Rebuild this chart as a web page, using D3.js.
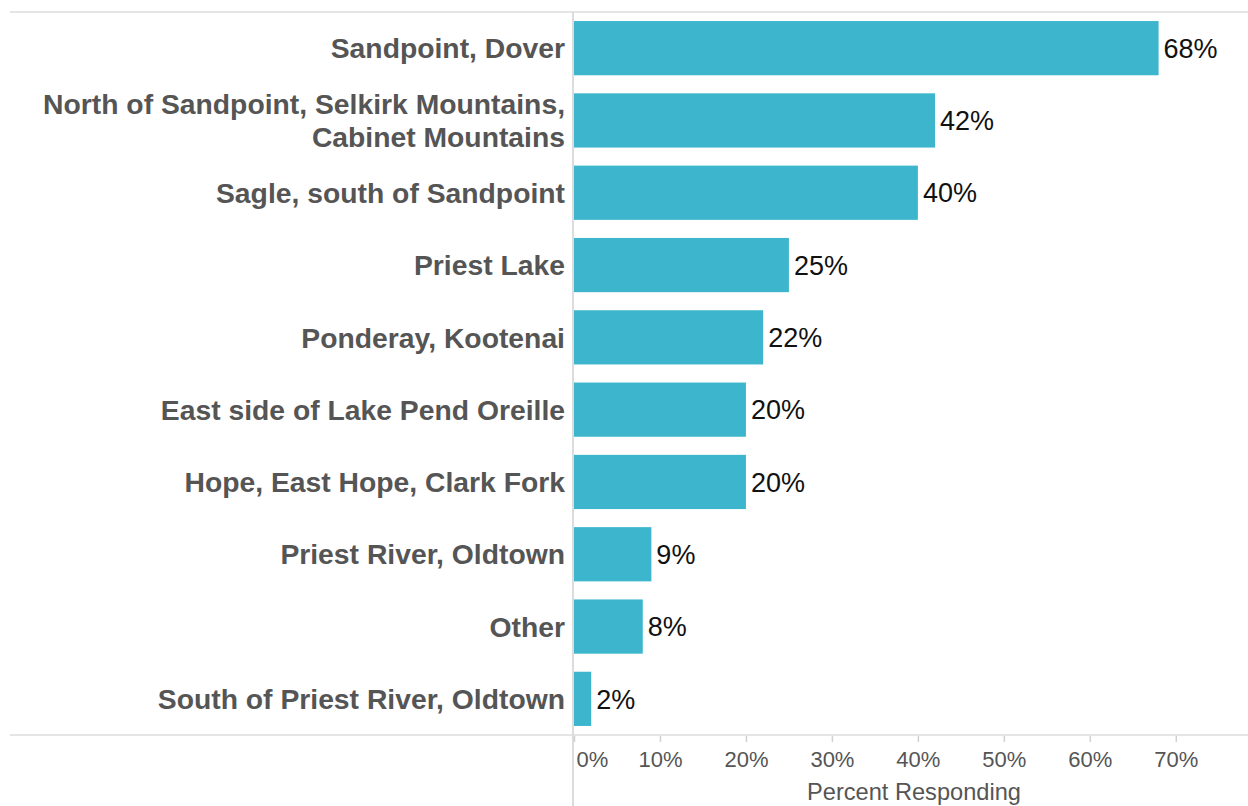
<!DOCTYPE html>
<html>
<head>
<meta charset="utf-8">
<script src="https://cdn.jsdelivr.net/npm/d3@7"></script>
<style>
  html, body { margin: 0; padding: 0; background: #fff; }
  svg { display: block; font-family: "Liberation Sans", Arial, Helvetica, sans-serif; }
</style>
</head>
<body>
<svg id="chart" width="1248" height="806"></svg>
<script>
// Areas named by respondents (each label line is one array entry)
const areas = [
  ["Sandpoint, Dover"],
  ["North of Sandpoint, Selkirk Mountains,", "Cabinet Mountains"],
  ["Sagle, south of Sandpoint"],
  ["Priest Lake"],
  ["Ponderay, Kootenai"],
  ["East side of Lake Pend Oreille"],
  ["Hope, East Hope, Clark Fork"],
  ["Priest River, Oldtown"],
  ["Other"],
  ["South of Priest River, Oldtown"]
];
// Percent of respondents for each area
const percents = [68, 42, 40, 25, 22, 20, 20, 9, 8, 2];
// Axis ticks
const tickValues = [0, 10, 20, 30, 40, 50, 60, 70];
const axisTitle = "Percent Responding";

const W = 1248, H = 806;
const plotLeft = 574, plotTop = 12, plotBottom = 735;
const svg = d3.select("#chart");

const rows = areas.map((lines, i) => ({ key: i, lines, value: percents[i] }));

const x = d3.scaleLinear().domain([0, 78.4]).range([plotLeft, W]);
const y = d3.scaleBand()
  .domain(rows.map(d => d.key))
  .range([plotTop, plotBottom])
  .paddingInner(0.25)
  .paddingOuter(0.125);

const gridColor = "#dcdcdc";

// Frame lines
svg.append("line")
  .attr("x1", 10).attr("x2", W).attr("y1", plotTop).attr("y2", plotTop)
  .attr("stroke", gridColor).attr("stroke-width", 1.5);
svg.append("line")
  .attr("x1", 10).attr("x2", W).attr("y1", plotBottom).attr("y2", plotBottom)
  .attr("stroke", gridColor).attr("stroke-width", 1.5);
svg.append("line")
  .attr("x1", plotLeft - 1).attr("x2", plotLeft - 1).attr("y1", plotTop).attr("y2", H)
  .attr("stroke", gridColor).attr("stroke-width", 2);

// Bars
svg.append("g").selectAll("rect")
  .data(rows)
  .join("rect")
  .attr("x", x(0))
  .attr("y", d => y(d.key))
  .attr("width", d => x(d.value) - x(0))
  .attr("height", y.bandwidth())
  .attr("fill", "#3db6cd");

// Value labels
svg.append("g").selectAll("text")
  .data(rows)
  .join("text")
  .attr("x", d => x(d.value) + 5)
  .attr("y", d => y(d.key) + y.bandwidth() / 2)
  .attr("dy", "0.36em")
  .attr("font-size", 27)
  .attr("fill", "#111")
  .text(d => d.value + "%");

// Category labels
const catG = svg.append("g");
rows.forEach(d => {
  const lh = 33;
  const cy = y(d.key) + y.bandwidth() / 2;
  const t = catG.append("text")
    .attr("text-anchor", "end")
    .attr("font-size", 28.3)
    .attr("font-weight", "bold")
    .attr("fill", "#555");
  d.lines.forEach((ln, j) => {
    t.append("tspan")
      .attr("x", 565)
      .attr("y", cy + (j - (d.lines.length - 1) / 2) * lh)
      .attr("dy", "0.36em")
      .text(ln);
  });
});

// Bottom axis
const axis = d3.axisBottom(x)
  .tickValues(tickValues)
  .tickFormat(d => d + "%")
  .tickSize(6)
  .tickPadding(10);
const ax = svg.append("g")
  .attr("transform", `translate(0,${plotBottom + 1})`)
  .call(axis);
ax.select(".domain").remove();
ax.selectAll(".tick line").attr("stroke", "#d0d0d0").attr("stroke-width", 1.5);
ax.selectAll(".tick text")
  .attr("font-size", 22)
  .attr("font-family", "Liberation Sans, Arial, sans-serif")
  .attr("fill", "#555")
  .attr("y", 31)
  .attr("dy", 0)
  .attr("text-anchor", d => d === 0 ? "start" : "middle")
  .attr("dx", d => d === 0 ? 2 : 0);

// Axis title
svg.append("text")
  .attr("x", 914)
  .attr("y", 800)
  .attr("text-anchor", "middle")
  .attr("font-size", 23.6)
  .attr("fill", "#555")
  .text(axisTitle);
</script>
</body>
</html>
